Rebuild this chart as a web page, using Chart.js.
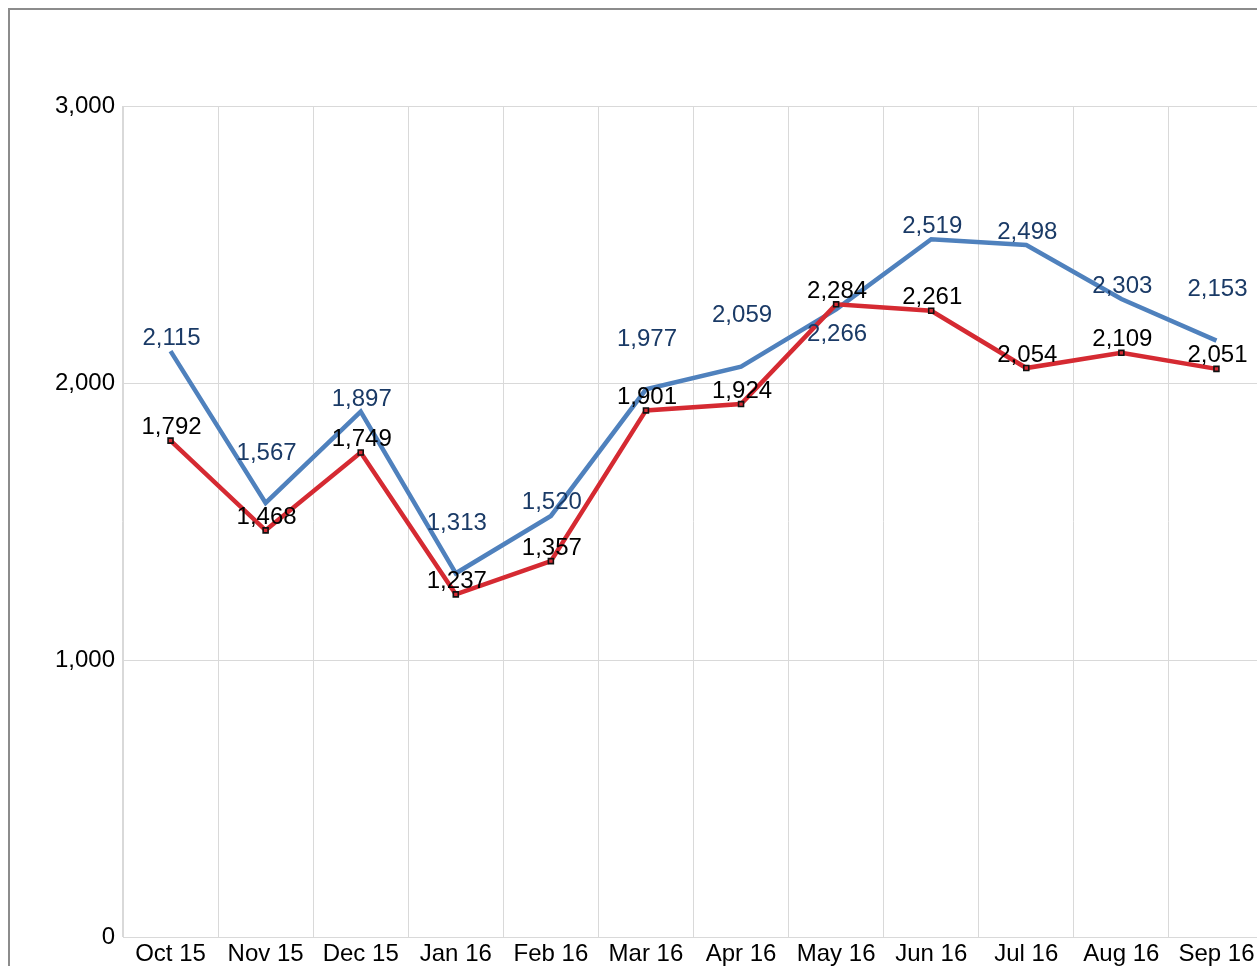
<!DOCTYPE html>
<html>
<head>
<meta charset="utf-8">
<script src="https://cdn.jsdelivr.net/npm/chart.js@4/dist/chart.umd.min.js"></script>
<style>
  html, body { margin: 0; padding: 0; background: #fff; overflow: hidden; width: 1257px; height: 966px; }
  #wrap { position: absolute; left: 0; top: 0; width: 1257px; height: 966px; overflow: hidden; }
  #frame { position: absolute; left: 8px; top: 8px; width: 1300px; height: 1000px; border-left: 2px solid #8c8c8c; border-top: 2px solid #8c8c8c; box-sizing: border-box; }
  canvas { position: absolute; left: 0; top: 0; }
</style>
</head>
<body>
<div id="wrap">
  <canvas id="c" width="1275" height="966"></canvas>
  <div id="frame"></div>
</div>
<script>
const categories = ["Oct 15","Nov 15","Dec 15","Jan 16","Feb 16","Mar 16","Apr 16","May 16","Jun 16","Jul 16","Aug 16","Sep 16"];
const blueValues = [2115, 1567, 1897, 1313, 1520, 1977, 2059, 2266, 2519, 2498, 2303, 2153];
const redValues  = [1792, 1468, 1749, 1237, 1357, 1901, 1924, 2284, 2261, 2054, 2109, 2051];
const yTicks = [0, 1000, 2000, 3000];

// label placement (pixel offsets from the point, as in the reference)
const blueLabelShift = [-15, -52, -14, -52, -16, -52, -53, 23, -15, -15, -15, -53];
const redLabelShift = -15;

const FONT = '"Liberation Sans", Arial, sans-serif';
const fmt = v => Number(v).toLocaleString('en-US');

const labelPlugin = {
  id: 'valueLabels',
  afterDatasetsDraw(chart) {
    const ctx = chart.ctx;
    ctx.save();
    ctx.font = '24px ' + FONT;
    ctx.textAlign = 'center';
    ctx.textBaseline = 'middle';
    chart.data.datasets.forEach((ds, di) => {
      const meta = chart.getDatasetMeta(di);
      meta.data.forEach((pt, i) => {
        const shift = ds.label === 'blue' ? blueLabelShift[i] : redLabelShift;
        ctx.fillStyle = ds.label === 'blue' ? '#1a3a66' : '#000000';
        ctx.fillText(fmt(ds.data[i]), pt.x + 1, pt.y + shift + 2);
      });
    });
    ctx.restore();
  }
};

new Chart(document.getElementById('c'), {
  type: 'line',
  data: {
    labels: categories,
    datasets: [
      {
        label: 'red',
        data: redValues,
        borderColor: '#d52a32',
        borderWidth: 4.5,
        tension: 0,
        pointStyle: 'rect',
        pointRadius: 3.5,
        pointBorderWidth: 1.6,
        pointBorderColor: '#111',
        pointBackgroundColor: '#d52a32',
        order: 0
      },
      {
        label: 'blue',
        data: blueValues,
        borderColor: '#4f81bd',
        borderWidth: 4.5,
        tension: 0,
        pointRadius: 0,
        order: 1
      }
    ]
  },
  options: {
    responsive: false,
    animation: false,
    devicePixelRatio: 1,
    layout: { padding: { top: 106, left: 0, right: 11, bottom: 0 } },
    plugins: { legend: { display: false }, tooltip: { enabled: false } },
    scales: {
      x: {
        offset: true,
        grid: { offset: true, color: '#d9d9d9', lineWidth: 1, drawTicks: false },
        border: { color: '#d9d9d9' },
        ticks: { color: '#000', font: { family: FONT, size: 24 }, padding: 3, maxRotation: 0, autoSkip: false },
        afterFit(s) { s.height = 29; }
      },
      y: {
        min: 0, max: 3000,
        afterBuildTicks(s) { s.ticks = yTicks.map(v => ({ value: v })); },
        grid: { color: '#d9d9d9', lineWidth: 1, drawTicks: false },
        border: { color: '#d9d9d9' },
        ticks: { color: '#000', font: { family: FONT, size: 24 }, padding: 8, callback: v => fmt(v) },
        afterFit(s) { s.width = 123; }
      }
    }
  },
  plugins: [labelPlugin]
});
</script>
</body>
</html>
